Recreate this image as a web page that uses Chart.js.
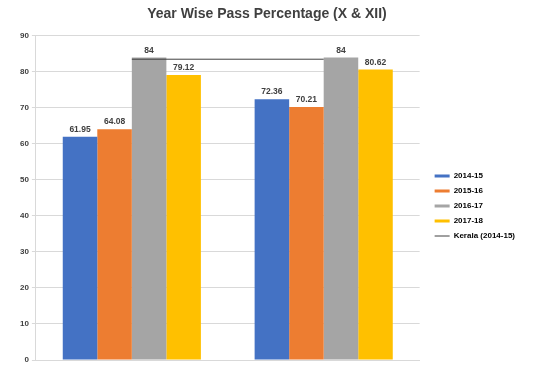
<!DOCTYPE html>
<html>
<head>
<meta charset="utf-8">
<script src="https://cdn.jsdelivr.net/npm/chart.js@4.4.1/dist/chart.umd.min.js"></script>
<style>
  html, body { margin: 0; padding: 0; background: #fff; overflow: hidden; }
  #wrap { width: 533px; height: 368px; }
</style>
</head>
<body>
<div id="wrap"><canvas id="passChart"></canvas></div>
<script>
const classes = ['X', 'XII'];
const years = ['2014-15', '2015-16', '2016-17', '2017-18'];
const pass201415 = [61.95, 72.36];
const pass201516 = [64.08, 70.21];
const pass201617 = [84, 84];
const pass201718 = [79.12, 80.62];
const stateLabel = 'Kerala (2014-15)';
const state201415 = [83.5, 83.5];
const yTicks = [0, 10, 20, 30, 40, 50, 60, 70, 80, 90];

const barColors = ['#4472C4', '#ED7D31', '#A5A5A5', '#FFC000'];
const barSeries = [pass201415, pass201516, pass201617, pass201718];
const FONT = '"Liberation Sans", Arial, sans-serif';

const datasets = barSeries.map((vals, i) => ({
  type: 'bar',
  label: years[i],
  data: vals,
  backgroundColor: barColors[i],
  borderWidth: 0,
  order: 1,
  barPercentage: 1,
  categoryPercentage: 0.72
}));
datasets.push({
  type: 'line',
  label: stateLabel,
  data: state201415,
  borderColor: '#404040',
  backgroundColor: '#404040',
  borderWidth: 1,
  pointRadius: 0,
  order: 0
});

// value labels above each bar
const barValueLabels = {
  id: 'barValueLabels',
  afterDatasetsDraw(chart) {
    const ctx = chart.ctx;
    ctx.save();
    ctx.font = 'bold 8.5px ' + FONT;
    ctx.fillStyle = '#404040';
    ctx.textAlign = 'center';
    ctx.textBaseline = 'bottom';
    chart.data.datasets.forEach((ds, di) => {
      if (ds.type !== 'bar') return;
      chart.getDatasetMeta(di).data.forEach((bar, i) => {
        ctx.fillText(String(ds.data[i]), bar.x, bar.y - 3);
      });
    });
    ctx.restore();
  }
};

// move the legend block lower and a bit further right
const legendNudge = {
  id: 'legendNudge',
  afterLayout(chart) {
    const lg = chart.legend;
    lg.top += 22;
    lg.bottom += 22;
    lg.left += 8;
    lg.right += 8;
  }
};

new Chart(document.getElementById('passChart'), {
  data: { labels: classes, datasets },
  plugins: [barValueLabels, legendNudge],
  options: {
    responsive: true,
    maintainAspectRatio: false,
    animation: false,
    layout: { padding: { left: 17, right: 16, top: 0, bottom: 0 } },
    plugins: {
      title: {
        display: true,
        text: 'Year Wise Pass Percentage (X & XII)',
        color: '#404040',
        font: { family: FONT, size: 14, weight: 'bold' },
        padding: { top: 6, bottom: 13 }
      },
      legend: {
        position: 'right',
        labels: {
          usePointStyle: true,
          pointStyle: 'line',
          pointStyleWidth: 15,
          boxHeight: 3,
          padding: 7,
          color: '#404040',
          font: { family: FONT, size: 8, weight: 'bold' },
          generateLabels(chart) {
            return chart.data.datasets.map((ds, i) => ({
              text: ds.label,
              fillStyle: ds.backgroundColor,
              strokeStyle: ds.type === 'bar' ? ds.backgroundColor : ds.borderColor,
              lineWidth: ds.type === 'bar' ? 3 : 1,
              pointStyle: 'line',
              hidden: false,
              datasetIndex: i
            }));
          }
        }
      },
      tooltip: { enabled: false }
    },
    scales: {
      x: {
        grid: { display: false },
        border: { color: '#d9d9d9' },
        ticks: { display: false }
      },
      y: {
        min: 0,
        max: 90,
        afterBuildTicks(axis) { axis.ticks = yTicks.map(v => ({ value: v })); },
        grid: { color: '#d9d9d9', tickLength: 4 },
        border: { color: '#d9d9d9' },
        ticks: {
          padding: 3,
          color: '#404040',
          font: { family: FONT, size: 8, weight: 'bold' }
        }
      }
    }
  }
});
</script>
</body>
</html>
